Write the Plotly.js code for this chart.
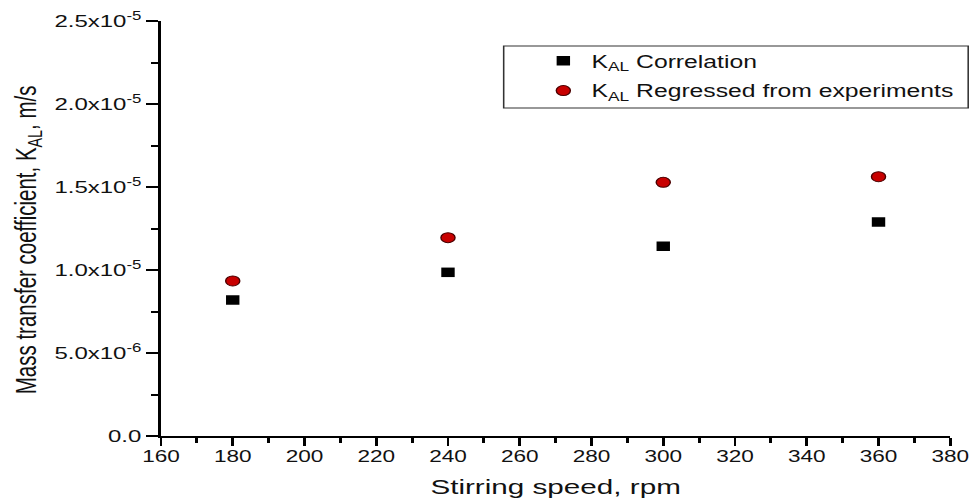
<!DOCTYPE html>
<html>
<head>
<meta charset="utf-8">
<script src="https://cdn.plot.ly/plotly-3.0.1.min.js"></script>
<style>
  html, body { margin: 0; padding: 0; background: #fff; overflow: hidden; }
  #chart { width: 693px; height: 502px; transform: scaleX(1.412); transform-origin: 0 0; }
</style>
</head>
<body>
<div id="chart"></div>
<script>
// Data
const stirringSpeed = [180, 240, 300, 360];
const kalCorrelation = [0.819e-5, 0.986e-5, 1.143e-5, 1.289e-5];
const kalRegressed = [0.934e-5, 1.195e-5, 1.528e-5, 1.562e-5];

const yTickVals = [0, 5e-6, 1e-5, 1.5e-5, 2e-5, 2.5e-5];
const yTickText = ["0.0", "5.0x10<sup>-6</sup>", "1.0x10<sup>-5</sup>", "1.5x10<sup>-5</sup>", "2.0x10<sup>-5</sup>", "2.5x10<sup>-5</sup>"];
const seriesNames = ["K<sub>AL</sub> Correlation", "K<sub>AL</sub> Regressed from experiments"];

const FONT = "Liberation Sans, Arial, sans-serif";
const INK = "#111111";

const traces = [
  {
    x: stirringSpeed, y: kalCorrelation, type: "scatter", mode: "markers",
    name: seriesNames[0], legendgroup: "a",
    marker: { symbol: "square", size: 9.5, color: "#000000" }
  },
  {
    x: stirringSpeed, y: kalRegressed, type: "scatter", mode: "markers",
    name: seriesNames[1], legendgroup: "b",
    marker: { symbol: "circle", size: 10, color: "#c80000", line: { color: "#4a0000", width: 1 } }
  }
];

const layout = {
  width: 693, height: 502,
  margin: { l: 114.3, r: 14.3, t: 21, b: 66 },
  paper_bgcolor: "#ffffff", plot_bgcolor: "#ffffff",
  font: { family: FONT, color: INK },
  showlegend: true,
  xaxis: {
    range: [160, 380], dtick: 20, tick0: 160,
    showgrid: false, zeroline: false,
    showline: true, linecolor: "#000000", linewidth: 2.2,
    ticks: "outside", ticklen: 8, tickwidth: 2, tickcolor: "#000000",
    ticklabelstandoff: -3,
    minor: { dtick: 10, ticks: "outside", ticklen: 5, tickwidth: 2, tickcolor: "#000000", showgrid: false },
    tickfont: { family: FONT, size: 16, color: INK },
    title: { text: "Stirring speed, rpm", font: { family: FONT, size: 21, color: INK }, standoff: 15 },
    automargin: false
  },
  yaxis: {
    range: [0, 2.5e-5],
    tickmode: "array", tickvals: yTickVals, ticktext: yTickText,
    showgrid: false, zeroline: false,
    showline: true, linecolor: "#000000", linewidth: 2,
    ticks: "outside", ticklen: 8.5, tickwidth: 2, tickcolor: "#000000",
    minor: { dtick: 2.5e-6, ticks: "outside", ticklen: 5, tickwidth: 2, tickcolor: "#000000", showgrid: false },
    tickfont: { family: FONT, size: 17, color: INK },
    title: { text: "Mass transfer coefficient, K<sub>AL</sub>, m/s&nbsp;&nbsp;&nbsp;&nbsp;", font: { family: FONT, size: 20.5, color: INK }, standoff: 7 },
    automargin: false
  },
  legend: {
    x: 0.474, y: 0.947, xanchor: "left", yanchor: "top",
    bgcolor: "rgba(0,0,0,0)", borderwidth: 0,
    font: { family: FONT, size: 17.5, color: INK },
    tracegroupgap: 4
  },
  shapes: [
    { type: "rect", xref: "paper", yref: "paper", x0: 0.4342, x1: 1.0227, y0: 0.7904, y1: 0.9398,
      line: { color: "#333333", width: 1.1 }, fillcolor: "rgba(0,0,0,0)", layer: "below" }
  ]
};

Plotly.newPlot("chart", traces, layout, { displayModeBar: false, staticPlot: true });
</script>
</body>
</html>
